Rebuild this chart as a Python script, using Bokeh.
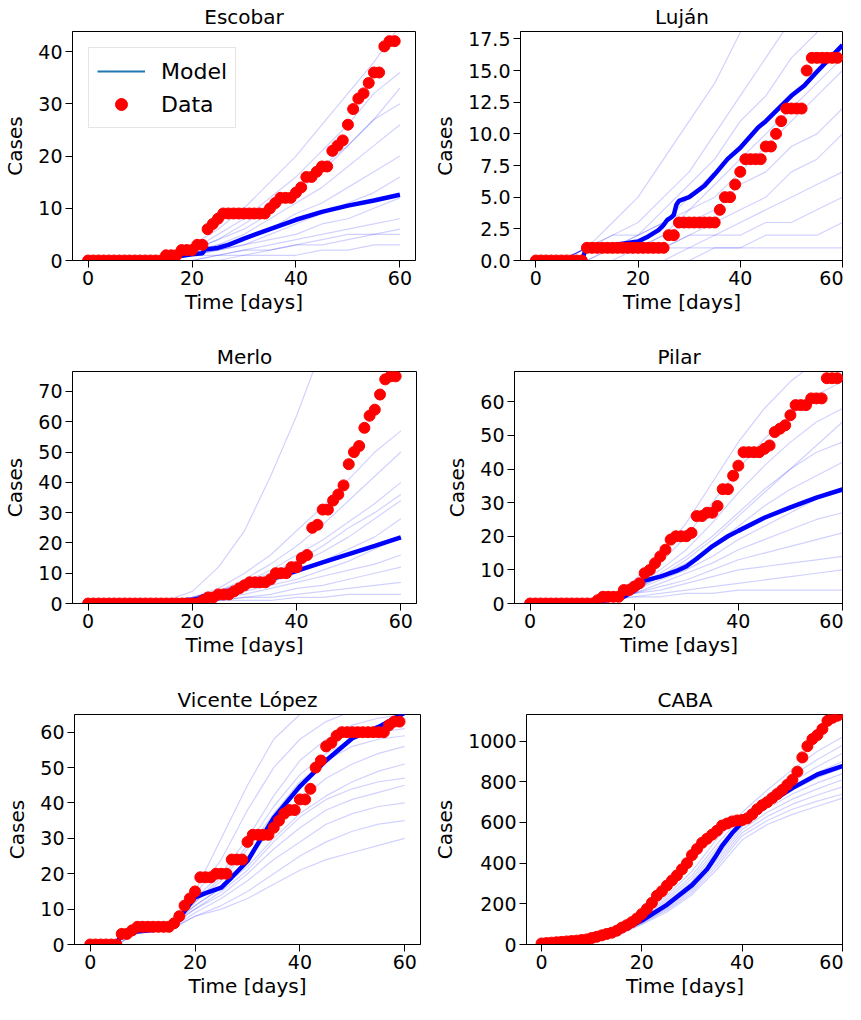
from bokeh.plotting import figure
from bokeh.layouts import column, row
from bokeh.models import FixedTicker, NumeralTickFormatter, Legend, LegendItem, Range1d
from bokeh.embed import file_html
from bokeh.resources import INLINE

# ---------------- data ----------------
days = list(range(60))
sim_days = [0, 5, 10, 15, 20, 25, 30, 35, 40, 45, 50, 55, 60]
x_ticks = [0, 20, 40, 60]

escobar_cases = [0, 0, 0, 0, 0, 0, 0, 0, 0, 0, 0, 0, 0, 0, 0, 1, 1, 1, 2, 2,
                 2, 3, 3, 6, 7, 8, 9, 9, 9, 9, 9, 9, 9, 9, 9, 10, 11, 12, 12, 12,
                 13, 14, 16, 16, 17, 18, 18, 21, 22, 23, 26, 29, 31, 32, 34, 36, 36, 41, 42, 42]
escobar_mean_t = [0, 10, 15, 18, 20, 22, 22.5, 25, 27, 30, 35, 40, 45, 50, 55, 60]
escobar_mean_v = [0, 0.1, 0.5, 0.9, 1.2, 1.4, 2.1, 2.4, 3.0, 4.2, 6.0, 7.8, 9.3, 10.5, 11.5, 12.6]
escobar_sims = [
    [0, 0, 0, 1, 3, 6, 10, 15, 20, 26, 32, 38, 45],
    [0, 0, 0, 1, 2, 5, 8, 12, 16, 21, 26, 32, 36],
    [0, 0, 0, 0, 2, 4, 7, 10, 14, 18, 22, 27, 33],
    [0, 0, 0, 1, 2, 3, 5, 8, 11, 14, 18, 22, 26],
    [0, 0, 0, 0, 1, 3, 4, 6, 9, 11, 14, 17, 20],
    [0, 0, 0, 0, 1, 2, 3, 5, 7, 9, 11, 13, 16],
    [0, 0, 0, 0, 1, 2, 3, 4, 5, 7, 8, 10, 12],
    [0, 0, 0, 0, 1, 1, 2, 3, 4, 5, 6, 7, 8],
    [0, 0, 0, 0, 0, 1, 1, 2, 3, 3, 4, 5, 6],
    [0, 0, 0, 0, 0, 0, 1, 1, 1, 2, 2, 3, 3],
    [0, 0, 0, 1, 2, 4, 6, 9, 13, 17, 22, 27, 30],
    [0, 0, 0, 0, 0, 1, 2, 2, 3, 4, 5, 5, 5],
]
escobar_yticks = [0, 10, 20, 30, 40]

lujan_cases = [0, 0, 0, 0, 0, 0, 0, 0, 0, 0, 1, 1, 1, 1, 1, 1, 1, 1, 1, 1,
               1, 1, 1, 1, 1, 1, 2, 2, 3, 3, 3, 3, 3, 3, 3, 3, 4, 5, 5, 6,
               7, 8, 8, 8, 8, 9, 9, 10, 11, 12, 12, 12, 12, 15, 16, 16, 16, 16, 16, 16]
lujan_mean_t = [0, 9, 9.6, 10, 15, 20, 22, 24, 25, 25.7, 26.5, 27, 27.5, 28, 30, 33, 35,
                37.5, 40, 43.5, 45, 50, 52.5, 55, 60]
lujan_mean_v = [0, 0, 0.7, 1.0, 1.2, 1.5, 1.9, 2.4, 2.8, 3.2, 3.4, 3.6, 4.4, 4.7, 5.0, 5.9, 6.8,
                8.0, 8.9, 10.5, 11.0, 13.0, 13.8, 14.9, 17.0]
lujan_sims = [
    [0, 0, 1, 3, 5, 8, 11, 14, 18, 21, 24, 27, 30],
    [0, 0, 1, 2, 3, 5, 7, 10, 13, 16, 19, 22, 25],
    [0, 0, 1, 1, 2, 4, 6, 8, 11, 13, 16, 18, 21],
    [0, 0, 1, 1, 2, 3, 5, 7, 9, 11, 13, 15, 17],
    [0, 0, 0, 1, 1, 2, 4, 5, 7, 9, 11, 13, 15],
    [0, 0, 1, 1, 1, 2, 3, 4, 6, 7, 9, 10, 12],
    [0, 0, 0, 1, 1, 1, 2, 3, 4, 5, 7, 8, 10],
    [0, 0, 1, 1, 1, 1, 2, 2, 3, 4, 5, 6, 7],
    [0, 0, 0, 0, 1, 1, 1, 2, 2, 3, 3, 4, 5],
    [0, 0, 0, 0, 0, 0, 1, 1, 1, 2, 2, 2, 3],
    [0, 0, 1, 2, 2, 3, 4, 6, 8, 10, 12, 14, 16],
    [0, 0, 0, 0, 0, 0, 0, 1, 1, 1, 1, 1, 1],
]
lujan_yticks = [0, 2.5, 5, 7.5, 10, 12.5, 15, 17.5]

merlo_cases = [0, 0, 0, 0, 0, 0, 0, 0, 0, 0, 0, 0, 0, 0, 0, 0, 0, 0, 0, 0,
               0, 0, 1, 2, 2, 3, 3, 3, 4, 5, 6, 7, 7, 7, 7, 8, 10, 10, 10, 12,
               12, 15, 16, 25, 26, 31, 31, 34, 36, 39, 46, 50, 52, 58, 62, 64, 69, 74, 75, 75]
merlo_mean_t = [0, 15, 20, 21, 22, 25, 30, 35, 40, 45, 50, 55, 60]
merlo_mean_v = [0, 0.3, 1.2, 1.5, 2.3, 3.3, 5.5, 8.0, 10.8, 13.6, 16.3, 19.0, 21.8]
merlo_sims = [
    [0, 0, 0, 1, 4, 12, 24, 42, 62, 85, 100, 110, 120],
    [0, 0, 0, 1, 2, 5, 10, 16, 24, 32, 41, 50, 57],
    [0, 0, 0, 1, 2, 4, 8, 13, 19, 26, 34, 42, 50],
    [0, 0, 0, 0, 2, 4, 7, 11, 16, 21, 27, 33, 40],
    [0, 0, 0, 0, 1, 3, 6, 9, 13, 17, 22, 28, 34],
    [0, 0, 0, 0, 1, 3, 5, 7, 10, 14, 18, 22, 28],
    [0, 0, 0, 0, 1, 2, 4, 6, 8, 11, 14, 18, 22],
    [0, 0, 0, 0, 1, 2, 3, 5, 7, 9, 11, 13, 16],
    [0, 0, 0, 0, 1, 1, 2, 3, 5, 6, 8, 10, 12],
    [0, 0, 0, 0, 0, 1, 2, 2, 3, 4, 5, 6, 7],
    [0, 0, 0, 0, 0, 1, 1, 1, 2, 2, 3, 3, 3],
    [0, 0, 0, 1, 2, 4, 7, 10, 14, 19, 25, 30, 36],
]
merlo_yticks = [0, 10, 20, 30, 40, 50, 60, 70]

pilar_cases = [0, 0, 0, 0, 0, 0, 0, 0, 0, 0, 0, 0, 0, 1, 2, 2, 2, 2, 4, 4,
               5, 6, 9, 10, 12, 14, 16, 19, 20, 20, 20, 21, 26, 26, 27, 27, 29, 34, 34, 38,
               41, 45, 45, 45, 45, 46, 47, 51, 52, 53, 56, 59, 59, 59, 61, 61, 61, 67, 67, 67]
pilar_mean_t = [0, 12, 15, 18, 20, 21, 22, 25, 28, 30, 32, 35, 38, 40, 45, 50, 55, 60]
pilar_mean_v = [0, 0.3, 1.0, 2.0, 3.8, 5.0, 6.8, 8.0, 9.6, 11.0, 13.3, 17.0, 20.0, 21.6, 25.5,
                28.6, 31.5, 33.9]
pilar_sims = [
    [0, 0, 0, 2, 7, 14, 24, 36, 48, 58, 66, 72, 78],
    [0, 0, 0, 2, 6, 12, 20, 30, 40, 49, 56, 62, 66],
    [0, 0, 0, 1, 5, 10, 16, 24, 33, 41, 48, 54, 58],
    [0, 0, 0, 1, 5, 9, 14, 20, 27, 34, 40, 45, 48],
    [0, 0, 0, 1, 4, 8, 12, 17, 23, 29, 34, 38, 42],
    [0, 0, 0, 1, 4, 7, 10, 14, 19, 23, 27, 31, 34],
    [0, 0, 0, 1, 3, 6, 9, 12, 16, 19, 22, 25, 27],
    [0, 0, 0, 1, 3, 5, 7, 10, 13, 15, 17, 19, 21],
    [0, 0, 0, 1, 3, 4, 6, 8, 10, 11, 12, 13, 14],
    [0, 0, 0, 1, 2, 3, 4, 5, 6, 7, 8, 9, 10],
    [0, 0, 0, 1, 2, 2, 3, 3, 4, 4, 4, 4, 4],
    [0, 0, 0, 1, 4, 8, 13, 19, 26, 33, 40, 47, 54],
]
pilar_yticks = [0, 10, 20, 30, 40, 50, 60]

vl_cases = [0, 0, 0, 0, 0, 0, 3, 3, 4, 5, 5, 5, 5, 5, 5, 5, 6, 8, 11, 13,
            15, 19, 19, 19, 20, 20, 20, 24, 24, 24, 29, 31, 31, 31, 31, 33, 35, 37, 38, 38,
            41, 41, 44, 50, 52, 56, 57, 59, 60, 60, 60, 60, 60, 60, 60, 60, 60, 62, 63, 63]
vl_mean_t = [0, 5, 5.5, 6, 8, 10, 15, 16, 17, 18, 20, 22, 25, 27, 30, 33, 35, 40, 45, 50, 55, 60]
vl_mean_v = [0, 0, 1.5, 2.5, 3.5, 3.8, 4.5, 5.2, 7.0, 9.5, 13.3, 14.5, 16.1, 19.0, 23.6, 31.0,
             35.8, 44.7, 52.0, 58.3, 61.5, 65.5]
vl_sims = [
    [0, 0, 4, 6, 15, 30, 45, 58, 65, 70, 72, 74, 75],
    [0, 0, 4, 5, 14, 24, 38, 50, 58, 63, 66, 68, 70],
    [0, 1, 4, 5, 13, 20, 30, 42, 52, 58, 62, 64, 65],
    [0, 1, 4, 5, 12, 18, 27, 37, 46, 52, 56, 58, 59],
    [0, 1, 4, 5, 11, 16, 24, 33, 41, 47, 51, 54, 56],
    [0, 1, 4, 5, 11, 16, 22, 30, 37, 42, 46, 49, 51],
    [0, 1, 4, 5, 10, 14, 20, 27, 33, 38, 41, 43, 45],
    [0, 1, 4, 4, 9, 13, 18, 24, 29, 34, 37, 39, 40],
    [0, 1, 4, 4, 8, 11, 15, 20, 25, 29, 32, 34, 35],
    [0, 1, 4, 4, 8, 10, 13, 17, 21, 24, 26, 28, 30],
    [0, 0, 4, 5, 12, 19, 28, 39, 48, 54, 58, 60, 61],
    [0, 1, 4, 5, 10, 15, 21, 29, 36, 41, 44, 46, 47],
]
vl_yticks = [0, 10, 20, 30, 40, 50, 60]

caba_cases = [5, 7, 9, 11, 13, 15, 17, 19, 22, 25, 32, 38, 45, 52, 58, 68, 83, 95, 110, 128,
              150, 175, 205, 240, 262, 290, 315, 340, 370, 400, 440, 470, 500, 520, 540, 560, 585, 595, 605, 610,
              612, 620, 640, 665, 685, 700, 720, 740, 760, 785, 810, 850, 920, 975, 1010, 1030, 1060, 1100, 1115, 1125]
caba_mean_t = [0, 5, 10, 15, 20, 25, 30, 33, 34.5, 36, 38, 40, 45, 50, 55, 60]
caba_mean_v = [5, 8, 18, 55, 118, 195, 292, 370, 425, 485, 548, 600, 690, 769, 836, 877]
caba_sims = [
    [5, 12, 28, 70, 150, 240, 360, 520, 650, 760, 860, 950, 1020],
    [5, 12, 26, 66, 142, 228, 340, 495, 630, 735, 830, 910, 980],
    [5, 11, 24, 62, 135, 218, 325, 475, 615, 715, 800, 875, 940],
    [5, 11, 22, 58, 128, 208, 310, 460, 605, 700, 780, 845, 900],
    [5, 10, 20, 55, 120, 198, 295, 445, 595, 690, 760, 820, 870],
    [5, 10, 19, 52, 115, 190, 285, 430, 580, 670, 740, 795, 840],
    [5, 9, 18, 50, 110, 182, 275, 415, 565, 650, 715, 765, 810],
    [5, 9, 17, 48, 106, 175, 265, 400, 550, 630, 690, 735, 775],
    [5, 8, 16, 45, 102, 168, 255, 385, 535, 610, 665, 705, 740],
    [5, 8, 15, 42, 98, 160, 245, 370, 515, 590, 640, 680, 720],
]
caba_yticks = [0, 200, 400, 600, 800, 1000]

FONT = "DejaVu Sans"


def make_panel(title, w, h, bl, br, bt, bb, xmax, ytop, yticks, cases, mean_t, mean_v, sims,
               yfmt=None, key_color=None):
    p = figure(width=w, height=h, x_range=Range1d(-3, xmax), y_range=Range1d(0, ytop),
               min_border_left=bl, min_border_right=br, min_border_top=bt, min_border_bottom=bb,
               output_backend="svg", toolbar_location=None, title=title)
    p.xgrid.grid_line_color = None
    p.ygrid.grid_line_color = None
    p.outline_line_color = "black"
    p.outline_line_alpha = 1
    p.outline_line_width = 1
    p.background_fill_color = "white"
    p.border_fill_color = "white"

    p.title.align = "center"
    p.title.text_font = FONT
    p.title.text_font_size = "20px"
    p.title.text_font_style = "normal"
    p.title.text_color = "black"
    p.title.standoff = 5

    for ax in (p.xaxis, p.yaxis):
        ax.major_tick_out = 7
        ax.major_tick_in = 0
        ax.minor_tick_out = 0
        ax.minor_tick_in = 0
        ax.axis_line_color = "black"
        ax.major_tick_line_color = "black"
        ax.major_label_text_font = FONT
        ax.major_label_text_font_size = "19px"
        ax.major_label_text_color = "black"
        ax.axis_label_text_font = FONT
        ax.axis_label_text_font_size = "20px"
        ax.axis_label_text_font_style = "normal"
        ax.axis_label_text_color = "black"
        ax.major_label_standoff = 3
    p.xaxis.axis_label = "Time [days]"
    p.yaxis.axis_label = "Cases"
    p.xaxis.axis_label_standoff = 2
    p.yaxis.axis_label_standoff = 8
    p.xaxis.ticker = FixedTicker(ticks=x_ticks)
    p.yaxis.ticker = FixedTicker(ticks=yticks)
    if yfmt:
        p.yaxis.formatter = NumeralTickFormatter(format=yfmt)

    p.multi_line(xs=[sim_days] * len(sims), ys=sims, line_color="#0000ff",
                 line_alpha=0.18, line_width=1.2)
    key = None
    if key_color:
        key = p.line(mean_t, mean_v, line_color=key_color, line_width=2)
    p.line(mean_t, mean_v, line_color="#0000ff", line_width=4.5)
    dots = p.scatter(days, cases, size=11, fill_color="#ff0000", line_color="#ff0000")
    return p, dots, key


# left column width 430 (x 8..438), right column width 413 (x 438..851)
p1, d1, k1 = make_panel("Escobar", 430, 335, 68, 15, 28, 75, 63, 43.85, escobar_yticks,
                        escobar_cases, escobar_mean_t, escobar_mean_v, escobar_sims,
                        key_color="#1f77b4")
p2, _, _ = make_panel("Luján", 413, 335, 86, 0, 28, 75, 60.2, 18.08, lujan_yticks,
                      lujan_cases, lujan_mean_t, lujan_mean_v, lujan_sims, yfmt="0.0")
p3, _, _ = make_panel("Merlo", 430, 343, 70, 14, 36, 75, 63, 76.6, merlo_yticks,
                      merlo_cases, merlo_mean_t, merlo_mean_v, merlo_sims)
p4, _, _ = make_panel("Pilar", 413, 343, 84, 0, 36, 75, 60.2, 69.0, pilar_yticks,
                      pilar_cases, pilar_mean_t, pilar_mean_v, pilar_sims)
p5, _, _ = make_panel("Vicente López", 430, 322, 74, 10, 36, 54, 63, 65.0, vl_yticks,
                      vl_cases, vl_mean_t, vl_mean_v, vl_sims)
p6, _, _ = make_panel("CABA", 413, 322, 96, 0, 36, 54, 60.2, 1131, caba_yticks,
                      caba_cases, caba_mean_t, caba_mean_v, caba_sims)

# legend on Escobar
legend = Legend(items=[LegendItem(label="Model", renderers=[k1]),
                       LegendItem(label="Data", renderers=[d1])],
                location="top_left")
legend.label_text_font = FONT
legend.label_text_font_size = "22px"
legend.label_text_color = "black"
legend.glyph_width = 48
legend.glyph_height = 30
legend.label_standoff = 16
legend.spacing = 3
legend.padding = 8
legend.margin = 16
legend.border_line_color = "#cccccc"
legend.border_line_width = 1
legend.background_fill_alpha = 0.8
p1.add_layout(legend)

layout = column(row(p1, p2), row(p3, p4), row(p5, p6))

with open("out.html", "w") as f:
    f.write(file_html(layout, INLINE))
